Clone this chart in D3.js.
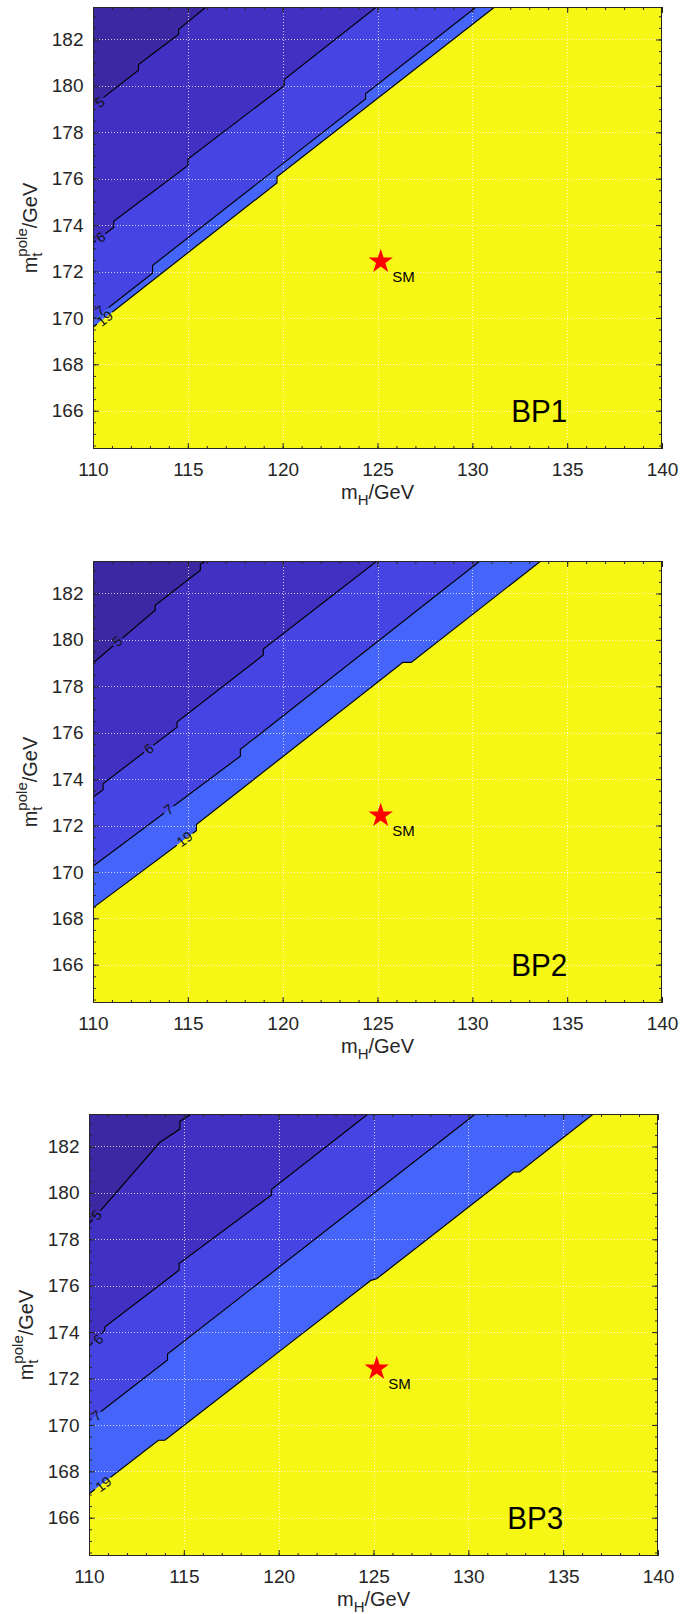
<!DOCTYPE html>
<html><head><meta charset="utf-8">
<script src="https://cdn.jsdelivr.net/npm/d3@7"></script>
<style>
body{margin:0;background:#fff}
svg{display:block}
text{font-family:"Liberation Sans",Arial,Helvetica,sans-serif}
</style>
</head><body>
<svg id="chart" width="681" height="1614"></svg>
<script>
// ---------- data ----------
const panelNames = ["BP1","BP2","BP3"];
const xDomain = [110,140];
const yDomain = [164.35,183.4];
const xTicks = [110,115,120,125,130,135,140];
const yTicks = [166,168,170,172,174,176,178,180,182];
const levels = [5,6,7,19];
const smPoint = [125.17,172.43];
const smText = "SM";
const bpTextPos = [132.05,165.5];

// contour lines [mH, mt]
const bp1Level5  = [[110,179.15],[112.4,180.68],[112.4,180.92],[114.51,182.22],[114.51,182.43],[115.96,183.4]];
const bp1Level6  = [[110,173.23],[111.09,173.9],[111.09,174.16],[115.01,176.57],[115.01,176.85],[120.08,180.01],[120.08,180.27],[124.94,183.4]];
const bp1Level7  = [[110,169.92],[113.14,171.93],[113.14,172.26],[124.37,179.44],[124.37,179.66],[130.2,183.4]];
const bp1Level19 = [[110,169.6],[119.7,175.82],[119.7,176.08],[131.18,183.4]];

const bp2Level5  = [[110,179.0],[113.28,181.28],[113.28,181.49],[115.66,183.0],[115.66,183.26],[115.96,183.4]];
const bp2Level6  = [[110,173.22],[110.53,173.54],[110.53,173.8],[114.43,176.24],[114.43,176.46],[118.98,179.35],[118.98,179.61],[124.97,183.4]];
const bp2Level7  = [[110,170.24],[117.77,174.99],[117.77,175.28],[130.4,183.4]];
const bp2Level19 = [[110,168.45],[115.45,171.78],[115.45,172.04],[126.34,179.03],[126.78,179.03],[133.61,183.4]];

const bp3Level5  = [[110,178.66],[113.73,182.17],[114.0,182.32],[114.79,182.75],[114.79,183.08],[115.4,183.4]];
const bp3Level6  = [[110,173.39],[110.83,174.08],[110.83,174.22],[114.75,176.67],[114.75,176.96],[119.63,179.91],[119.63,180.16],[124.71,183.4]];
const bp3Level7  = [[110,170.18],[114.14,172.8],[114.14,173.05],[130.37,183.4]];
const bp3Level19 = [[110,167.02],[113.66,169.34],[114.0,169.34],[124.87,176.23],[125.17,176.3],[132.38,180.9],[132.7,180.9],[136.59,183.4]];

// contour label positions [mH, mt] (order = levels)
const bp1LabelPos = [[110.36,179.3],[110.4,173.48],[110.36,170.3],[110.62,169.98]];
const bp2LabelPos = [[111.27,179.95],[112.94,175.31],[113.99,172.7],[114.82,171.42]];
const bp3LabelPos = [[110.39,179.05],[110.48,173.69],[110.39,170.4],[110.76,167.45]];

// ---------- styles / layout ----------
const regionColors = ["#3b28a2","#4131c3","#4645e4","#4565fa","#f7f716"];
const axisColor = "#262626";
const layout = [{left:93,top:7},{left:93,top:561},{left:89,top:1114}];
const W = 569, H = 442;

const contoursByPanel = [
  [bp1Level5,bp1Level6,bp1Level7,bp1Level19],
  [bp2Level5,bp2Level6,bp2Level7,bp2Level19],
  [bp3Level5,bp3Level6,bp3Level7,bp3Level19]
];
const labelsByPanel = [bp1LabelPos,bp2LabelPos,bp3LabelPos];

const svg = d3.select("#chart");

function starPath(R, r){
  const pts = [];
  for (let k=0;k<10;k++){
    const a = -Math.PI/2 + k*Math.PI/5;
    const rr = k%2===0 ? R : r;
    pts.push([rr*Math.cos(a), rr*Math.sin(a)]);
  }
  return d3.line()(pts)+"Z";
}

contoursByPanel.forEach((contours,pi)=>{
  const {left,top} = layout[pi];
  const x = d3.scaleLinear().domain(xDomain).range([0,W]);
  const y = d3.scaleLinear().domain(yDomain).range([H,0]);
  const g = svg.append("g").attr("transform",`translate(${left},${top})`);
  const defs = g.append("defs");
  const clipId = "clip"+pi;
  defs.append("clipPath").attr("id",clipId).append("rect").attr("width",W).attr("height",H);

  const plot = g.append("g").attr("clip-path",`url(#${clipId})`);
  // filled regions
  plot.append("rect").attr("width",W).attr("height",H).attr("fill",regionColors[4]);
  const line = d3.line().x(d=>x(d[0])).y(d=>y(d[1]));
  for (let i=contours.length-1;i>=0;i--){
    plot.append("path")
      .attr("d", line(contours[i].concat([[xDomain[0],yDomain[1]]]))+"Z")
      .attr("fill",regionColors[i]);
  }
  // grid
  const grid = plot.append("g").attr("stroke","#ffffff").attr("stroke-opacity",0.75)
    .attr("stroke-width",1).attr("stroke-dasharray","1,2");
  grid.selectAll(".gx").data(xTicks.slice(1,-1)).join("line")
    .attr("x1",d=>Math.round(x(d))+0.5).attr("x2",d=>Math.round(x(d))+0.5).attr("y1",0).attr("y2",H);
  grid.selectAll(".gy").data(yTicks).join("line")
    .attr("y1",d=>Math.round(y(d))+0.5).attr("y2",d=>Math.round(y(d))+0.5).attr("x1",0).attr("x2",W);

  // label gaps via mask
  const maskId = "mask"+pi;
  const mask = defs.append("mask").attr("id",maskId).attr("maskUnits","userSpaceOnUse")
    .attr("x",-5).attr("y",-5).attr("width",W+10).attr("height",H+10);
  mask.append("rect").attr("x",-5).attr("y",-5).attr("width",W+10).attr("height",H+10).attr("fill","white");

  const labelG = plot.append("g");
  labelsByPanel[pi].forEach((p,i)=>{
    const px = x(p[0]), py = y(p[1]);
    const pts = contours[i].map(d=>[x(d[0]),y(d[1])]);
    let best = null, bestD = Infinity;
    for (let k=0;k<pts.length-1;k++){
      const [x1,y1] = pts[k], [x2,y2] = pts[k+1];
      if (Math.abs(x2-x1) < 2) continue;
      const dx=x2-x1, dy=y2-y1;
      let t = ((px-x1)*dx+(py-y1)*dy)/(dx*dx+dy*dy);
      t = Math.max(0,Math.min(1,t));
      const d = Math.hypot(x1+t*dx-px, y1+t*dy-py);
      if (d<bestD){bestD=d;best=[dx,dy];}
    }
    const ang = Math.atan2(best[1],best[0])*180/Math.PI;
    const txt = String(levels[i]);
    const fs = 14;
    const tw = txt.length*fs*0.556;
    mask.append("rect").attr("x",-tw/2-2).attr("y",-6.5).attr("width",tw+4).attr("height",13)
      .attr("fill","black").attr("transform",`translate(${px},${py}) rotate(${ang})`);
    labelG.append("text").attr("transform",`translate(${px},${py}) rotate(${ang})`)
      .attr("text-anchor","middle").attr("dy","0.36em").attr("font-size",fs)
      .attr("fill","#111").text(txt);
  });

  // contour lines
  const lines = plot.insert("g", () => labelG.node()).attr("mask",`url(#${maskId})`);
  contours.forEach(c=>{
    lines.append("path").attr("d",line(c)).attr("fill","none").attr("stroke","#000").attr("stroke-width",1.15);
  });

  // SM star
  plot.append("path").attr("d",starPath(12.8,4.9))
    .attr("transform",`translate(${x(smPoint[0])},${y(smPoint[1])})`).attr("fill","#ff0000");
  plot.append("text").attr("x",x(smPoint[0])+11.5).attr("y",y(smPoint[1])+20)
    .attr("font-size",15).attr("fill","#000").text(smText);

  // BP label
  plot.append("text").attr("x",x(bpTextPos[0])).attr("y",y(bpTextPos[1]))
    .attr("font-size",32).attr("fill","#000")
    .attr("textLength",56).attr("lengthAdjust","spacingAndGlyphs").text(panelNames[pi]);

  // axes
  const styleAxis = sel => {
    sel.select(".domain").remove();
    sel.selectAll(".tick line").attr("stroke",axisColor).attr("stroke-width",1);
    sel.selectAll("text").attr("fill",axisColor).attr("font-size",19)
      .attr("font-family",'"Liberation Sans",Arial,Helvetica,sans-serif');
  };
  const minorX = x.ticks(30), minorY = y.ticks(40);
  g.append("g").attr("transform",`translate(0,${H})`)
    .call(d3.axisBottom(x).tickValues(minorX).tickSizeInner(-3).tickSizeOuter(0).tickFormat(""))
    .call(styleAxis);
  g.append("g").attr("transform",`translate(0,${H})`)
    .call(d3.axisBottom(x).tickValues(xTicks).tickSizeInner(-6).tickSizeOuter(0).tickPadding(14).tickFormat(d3.format("d")))
    .call(styleAxis);
  g.append("g")
    .call(d3.axisTop(x).tickValues(minorX).tickSizeInner(-3).tickSizeOuter(0).tickFormat(""))
    .call(styleAxis);
  g.append("g")
    .call(d3.axisTop(x).tickValues(xTicks).tickSizeInner(-6).tickSizeOuter(0).tickFormat(""))
    .call(styleAxis);
  g.append("g")
    .call(d3.axisLeft(y).tickValues(minorY).tickSizeInner(-3).tickSizeOuter(0).tickFormat(""))
    .call(styleAxis);
  g.append("g")
    .call(d3.axisLeft(y).tickValues(yTicks).tickSizeInner(-6).tickSizeOuter(0).tickPadding(9.5).tickFormat(d3.format("d")))
    .call(styleAxis);
  g.append("g").attr("transform",`translate(${W},0)`)
    .call(d3.axisRight(y).tickValues(minorY).tickSizeInner(-3).tickSizeOuter(0).tickFormat(""))
    .call(styleAxis);
  g.append("g").attr("transform",`translate(${W},0)`)
    .call(d3.axisRight(y).tickValues(yTicks).tickSizeInner(-6).tickSizeOuter(0).tickFormat(""))
    .call(styleAxis);
  g.append("rect").attr("x",0.5).attr("y",0.5).attr("width",W-1).attr("height",H-1)
    .attr("fill","none").attr("stroke",axisColor).attr("stroke-width",1);

  // axis titles
  const xt = g.append("text").attr("x",W/2).attr("y",H+50).attr("text-anchor","middle")
    .attr("font-size",20).attr("fill",axisColor);
  xt.append("tspan").text("m");
  xt.append("tspan").attr("font-size",15).attr("dy",6).text("H");
  xt.append("tspan").attr("dy",-6).text("/GeV");

  const yt = g.append("text").attr("transform",`translate(-56,${H/2}) rotate(-90)`)
    .attr("text-anchor","middle").attr("font-size",20).attr("fill",axisColor);
  yt.append("tspan").text("m");
  yt.append("tspan").attr("font-size",15).attr("dy",5).text("t");
  yt.append("tspan").attr("font-size",15).attr("dy",-15).attr("dx",-15*0.278).text("pole");
  yt.append("tspan").attr("dy",10).text("/GeV");
});
</script>
</body></html>
